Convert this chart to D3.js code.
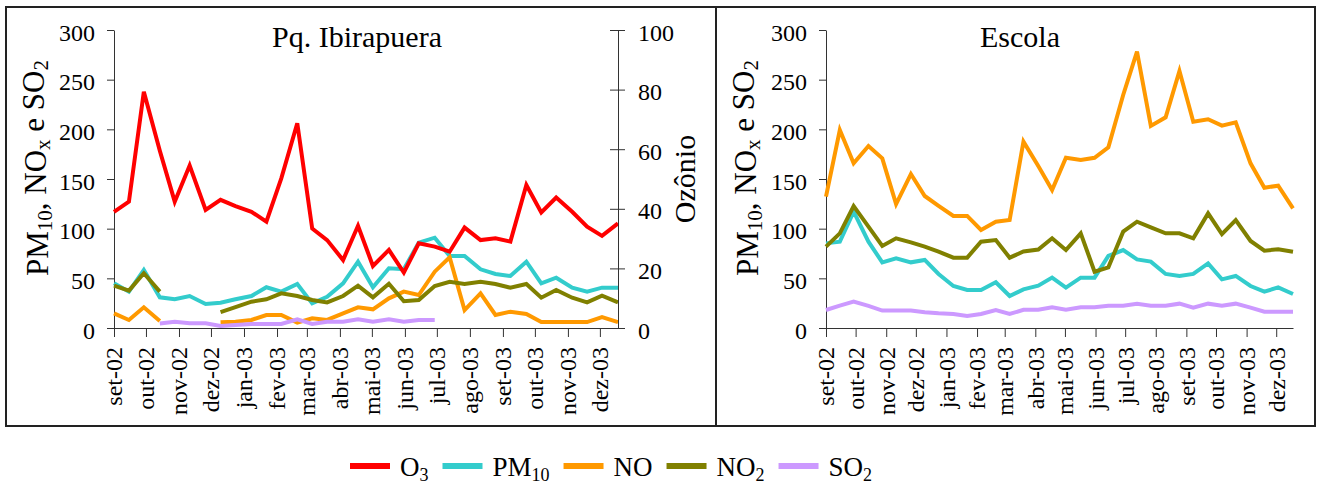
<!doctype html>
<html lang="pt-br">
<head>
<meta charset="UTF-8">
<title>Ibirapuera x Escola</title>
<style>
	body { margin: 0; background: #fff; }
	svg text { font-family: "Liberation Serif", "Times New Roman", serif; fill: #000; }
	.axis path, .axis line { stroke: #333; stroke-width: 1px; }
	.axis text { font-size: 24px; font-family: "Liberation Serif", "Times New Roman", serif; }
	.serie { fill: none; stroke-width: 4px; stroke-linejoin: miter; }
</style>
</head>
<body>
<script src="https://cdn.jsdelivr.net/npm/d3@7"></script>
<script>
	// datas das amostras (quinzenais)
	var sampleDates = ['2002-09-01','2002-09-15','2002-09-29','2002-10-14','2002-10-28','2002-11-11','2002-11-26',
		'2002-12-10','2002-12-24','2003-01-08','2003-01-22','2003-02-05','2003-02-20','2003-03-06','2003-03-20',
		'2003-04-04','2003-04-18','2003-05-02','2003-05-17','2003-05-31','2003-06-14','2003-06-29','2003-07-13',
		'2003-07-27','2003-08-11','2003-08-25','2003-09-08','2003-09-23','2003-10-07','2003-10-21','2003-11-05',
		'2003-11-19','2003-12-03','2003-12-18'];

	var monthLabels = ['set-02','out-02','nov-02','dez-02','jan-03','fev-03','mar-03','abr-03',
		'mai-03','jun-03','jul-03','ago-03','set-03','out-03','nov-03','dez-03'];

	var leftTicks = [0, 50, 100, 150, 200, 250, 300];
	var ozoneTicks = [0, 20, 40, 60, 80, 100];

	// Pq. Ibirapuera
	var o3Ibira = [39.0, 42.4, 79.3, 59.5, 42.4, 54.5, 39.6, 43.0, 40.9, 39.0, 35.7, 50.2, 68.7, 33.4, 29.5, 22.8, 34.3,
		20.8, 26.2, 18.6, 28.4, 27.3, 25.6, 33.7, 29.5, 30.1, 29.0, 48.0, 38.8, 43.8, 39.0, 34.0, 30.9, 35.1];
	var pm10Ibira = [45.0, 36.6, 58.4, 30.9, 28.9, 32.2, 24.2, 25.5, 28.9, 32.2, 41.0, 36.6, 44.3, 24.8, 31.5, 45.0, 66.8,
		41.0, 60.1, 59.1, 85.9, 90.9, 72.5, 72.5, 59.1, 54.4, 52.4, 66.8, 45.0, 50.6, 40.6, 36.6, 40.6, 40.6];
	var noIbira = [14.8, 8.1, 20.8, 7.0, null, null, null, 5.7, 6.4, 8.1, 13.1, 13.1, 5.4, 9.7, 8.1, 14.8, 20.8,
		18.8, 29.9, 36.6, 33.2, 56.7, 71.2, 18.1, 34.9, 13.1, 16.4, 14.1, 6.0, 6.0, 6.0, 6.0, 11.0, 6.0];
	var no2Ibira = [42.6, 37.6, 55.1, 36.6, null, null, null, 16.0, 21.0, 26.5, 28.9, 34.9, 32.2, 28.2, 25.8, 32.2, 42.6,
		30.9, 44.5, 27.0, 28.2, 42.3, 46.6, 44.3, 46.6, 44.3, 40.6, 44.3, 30.5, 38.3, 30.5, 25.8, 32.5, 25.8];
	var so2Ibira = [null, null, null, 4.5, 6.3, 4.7, 4.7, 2.0, 3.0, 4.0, 4.0, 4.0, 8.7, 4.0, 6.3, 6.3, 8.7,
		6.3, 8.7, 6.3, 8.1, 8.1, null, null, null, null, null, null, null, null, null, null, null, null];

	// Escola
	var pm10Escola = [85.2, 86.9, 117.1, 86.9, 66.1, 70.1, 66.1, 68.5, 54.4, 42.3, 38.3, 38.3, 46.0, 32.2, 38.9, 42.6, 50.7,
		40.6, 50.7, 50.7, 72.5, 78.5, 69.1, 66.8, 54.4, 52.4, 54.4, 65.1, 49.0, 52.4, 42.3, 36.6, 40.9, 34.2];
	var noEscola = [132.2, 199.3, 165.8, 183.2, 170.8, 124.8, 155.0, 132.9, 123.0, 112.8, 112.8, 98.7, 107.0, 108.7, 187.6, 163.0, 138.9,
		171.4, 169.1, 171.4, 181.9, 234.6, 278.2, 203.4, 212.1, 258.7, 207.7, 210.1, 203.7, 207.1, 165.8, 141.2, 143.3, 120.5];
	var no2Escola = [81.9, 95.3, 122.8, 102.0, 82.6, 90.3, 86.2, 81.9, 76.8, 70.8, 70.8, 86.9, 88.6, 70.8, 77.0, 79.0, 90.3,
		78.5, 95.3, 56.7, 61.1, 97.0, 107.0, 101.3, 95.3, 95.3, 90.3, 115.4, 94.6, 108.7, 87.6, 77.9, 79.2, 76.8];
	var so2Escola = [18.1, 22.5, 26.5, 22.2, 17.5, 17.5, 17.5, 15.8, 14.8, 14.1, 12.1, 14.1, 18.1, 14.1, 18.3, 18.3, 20.8,
		18.5, 20.8, 20.8, 22.5, 22.5, 24.5, 22.5, 22.5, 24.5, 20.5, 24.5, 22.5, 24.5, 20.5, 16.4, 16.4, 16.4];

	var colors = {
		O3: '#ff0000',
		PM10: '#33cccc',
		NO: '#ff9900',
		NO2: '#808000',
		SO2: '#cc99ff'
	};

	var serif = '"Liberation Serif", "Times New Roman", serif';

	var w = 1318,
		h = 484,
		yTop = 30,
		yBottom = 328;

	var parseDate = d3.timeParse('%Y-%m-%d');
	var dates = sampleDates.map(parseDate);
	var monthDates = d3.timeMonth.range(new Date(2002, 8, 1), new Date(2004, 0, 1));

	var svg = d3.select('body').append('svg')
		.attr('width', w)
		.attr('height', h);

	// molduras dos dois quadros
	svg.append('rect').attr('x', 6).attr('y', 7).attr('width', 710).attr('height', 419)
		.attr('fill', 'none').attr('stroke', '#222').attr('stroke-width', 2);
	svg.append('rect').attr('x', 716).attr('y', 7).attr('width', 599).attr('height', 419)
		.attr('fill', 'none').attr('stroke', '#222').attr('stroke-width', 2);

	var yScale = d3.scaleLinear().domain([0, 300]).range([yBottom, yTop]);
	var ozScale = d3.scaleLinear().domain([0, 100]).range([yBottom, yTop]);

	/**
	* y-axis title with subscripts, rotated
	*/
	var addLeftTitle = function(x, cy) {
		var t = svg.append('text')
			.attr('transform', 'translate(' + x + ',' + cy + ') rotate(-90)')
			.attr('text-anchor', 'middle')
			.style('font-size', '31px');
		t.append('tspan').text('PM');
		t.append('tspan').text('10').style('font-size', '21px').attr('dy', '0.2em');
		t.append('tspan').text(', NO').attr('dy', '-0.2em');
		t.append('tspan').text('x').style('font-size', '21px').attr('dy', '0.2em');
		t.append('tspan').text(' e SO').attr('dy', '-0.2em');
		t.append('tspan').text('2').style('font-size', '21px').attr('dy', '0.2em');
	};

	/**
	* draw one panel
	*/
	var drawPanel = function(p) {
		var x = d3.scaleTime()
			.domain([dates[0], dates[dates.length - 1]])
			.range([p.x0, p.x1]);

		// eixo x
		var gx = svg.append('g')
			.attr('class', 'axis')
			.attr('transform', 'translate(0,' + yBottom + ')')
			.call(d3.axisBottom(x)
				.tickValues(monthDates)
				.tickSize(9)
				.tickSizeOuter(0)
				.tickFormat(function(d, i) { return monthLabels[i]; }));
		gx.attr('font-family', serif);
		gx.selectAll('text')
			.attr('transform', 'rotate(-90)')
			.attr('x', -19)
			.attr('y', 0)
			.attr('dy', '0.33em')
			.style('font-family', serif)
			.style('text-anchor', 'end');

		// eixo y esquerdo
		var gy = svg.append('g')
			.attr('class', 'axis')
			.attr('transform', 'translate(' + p.x0 + ',0)')
			.call(d3.axisLeft(yScale)
				.tickValues(leftTicks)
				.tickSize(7)
				.tickSizeOuter(0)
				.tickPadding(12));
		gy.attr('font-family', serif);
		gy.selectAll('text').attr('dy', '0.42em').style('font-family', serif);

		addLeftTitle(p.titleX, 168);

		// titulo do quadro
		svg.append('text')
			.attr('x', p.nameX)
			.attr('y', 47)
			.attr('text-anchor', 'middle')
			.style('font-size', '30px')
			.text(p.name);

		var line = d3.line()
			.defined(function(d) { return d != null; })
			.x(function(d, i) { return x(dates[i]); });

		p.series.forEach(function(s) {
			var sc = s.ozone ? ozScale : yScale;
			svg.append('path')
				.datum(s.values)
				.attr('class', 'serie')
				.attr('stroke', colors[s.key])
				.attr('d', line.y(function(d) { return sc(d); }));
		});

		if (p.ozone) {
			var gr = svg.append('g')
				.attr('class', 'axis')
				.attr('transform', 'translate(' + p.x1 + ',0)')
				.call(d3.axisRight(ozScale)
					.tickValues(ozoneTicks)
					.tickSize(7)
					.tickSizeOuter(0)
					.tickPadding(13));
			gr.attr('font-family', serif);
			gr.selectAll('.tick line').attr('x1', -8);
			gr.selectAll('text').attr('dy', '0.42em').style('font-family', serif);

			svg.append('text')
				.attr('transform', 'translate(' + 695 + ',' + 179 + ') rotate(-90)')
				.attr('text-anchor', 'middle')
				.style('font-size', '30px')
				.text('Ozônio');
		}
	};

	drawPanel({
		name: 'Pq. Ibirapuera',
		nameX: 357,
		titleX: 48,
		x0: 114,
		x1: 618,
		ozone: true,
		series: [
			{ key: 'PM10', values: pm10Ibira },
			{ key: 'NO', values: noIbira },
			{ key: 'NO2', values: no2Ibira },
			{ key: 'SO2', values: so2Ibira },
			{ key: 'O3', values: o3Ibira, ozone: true }
		]
	});

	drawPanel({
		name: 'Escola',
		nameX: 1020,
		titleX: 758,
		x0: 826,
		x1: 1293,
		ozone: false,
		series: [
			{ key: 'PM10', values: pm10Escola },
			{ key: 'NO', values: noEscola },
			{ key: 'NO2', values: no2Escola },
			{ key: 'SO2', values: so2Escola }
		]
	});

	// legenda
	var legendItems = [
		{ key: 'O3', base: 'O', sub: '3' },
		{ key: 'PM10', base: 'PM', sub: '10' },
		{ key: 'NO', base: 'NO', sub: '' },
		{ key: 'NO2', base: 'NO', sub: '2' },
		{ key: 'SO2', base: 'SO', sub: '2' }
	];
	var lx = 350,
		ly = 466;
	legendItems.forEach(function(item) {
		svg.append('line')
			.attr('x1', lx).attr('x2', lx + 40)
			.attr('y1', ly).attr('y2', ly)
			.attr('stroke', colors[item.key])
			.attr('stroke-width', 6);
		var t = svg.append('text')
			.attr('x', lx + 50)
			.attr('y', ly + 10)
			.style('font-size', '27px');
		t.append('tspan').text(item.base);
		if (item.sub) {
			t.append('tspan').text(item.sub).style('font-size', '18px').attr('dy', '0.3em');
		}
		lx += 50 + t.node().getComputedTextLength() + 14;
	});
</script>
</body>
</html>
